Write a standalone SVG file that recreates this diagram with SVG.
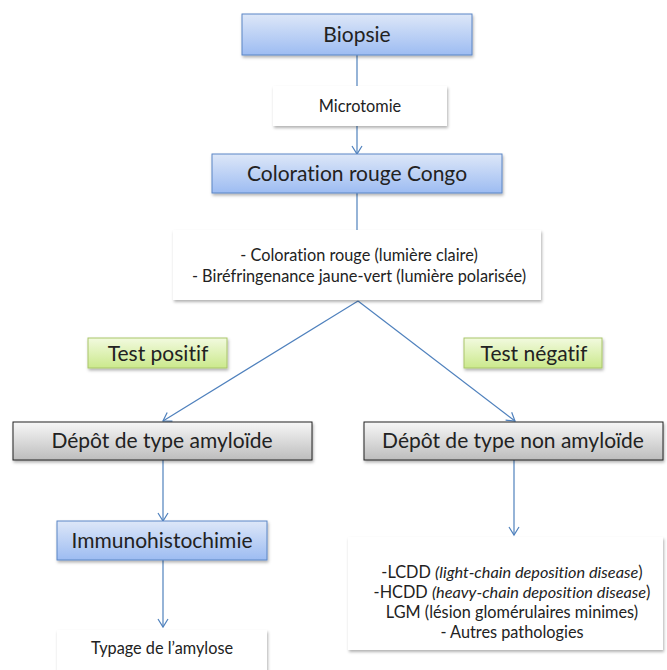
<svg xmlns="http://www.w3.org/2000/svg" width="667" height="670" viewBox="0 0 667 670">
<style>
text{font-family:Lato,"Open Sans","Liberation Sans",sans-serif;fill:#222;text-anchor:middle;font-variant-ligatures:none}
.big{font-size:21px}
.mid{font-size:21px}
.sm{font-size:16.3px}
.blue{fill:url(#gBlue);stroke:#5b86c5;stroke-width:1}
.gray{fill:url(#gGray);stroke:#222;stroke-width:1}
.green{fill:url(#gGreen);stroke:#a9c56a;stroke-width:1}
.white{fill:#fff}
.con{stroke:#4f81bd;stroke-width:1.2;fill:none}
</style>
<defs>
<linearGradient id="gBlue" x1="0" y1="0" x2="0" y2="1"><stop offset="0" stop-color="#dde7f8"/><stop offset="1" stop-color="#9dbcf2"/></linearGradient>
<linearGradient id="gGray" x1="0" y1="0" x2="0" y2="1"><stop offset="0" stop-color="#f7f7f7"/><stop offset="1" stop-color="#bdbdbd"/></linearGradient>
<linearGradient id="gGreen" x1="0" y1="0" x2="0" y2="1"><stop offset="0" stop-color="#f2fadf"/><stop offset="1" stop-color="#cbe98c"/></linearGradient>
<filter id="sh" x="-10%" y="-20%" width="120%" height="150%"><feDropShadow dx="1" dy="2" stdDeviation="1.5" flood-color="#000" flood-opacity="0.3"/></filter>
<marker id="arr" markerWidth="12" markerHeight="12" refX="10" refY="6" orient="auto" markerUnits="userSpaceOnUse"><path d="M2,1 L10,6 L2,11" fill="none" stroke="#4f81bd" stroke-width="1.2"/></marker>
</defs>
<g id="connectors">
<line class="con" x1="357" y1="55" x2="357" y2="86"/>
<line class="con" x1="357" y1="126" x2="357" y2="154" marker-end="url(#arr)"/>
<line class="con" x1="357" y1="193" x2="357" y2="230"/>
<line class="con" x1="358" y1="301" x2="163" y2="421" marker-end="url(#arr)"/>
<line class="con" x1="358" y1="301" x2="515" y2="421" marker-end="url(#arr)"/>
<line class="con" x1="163" y1="460" x2="163" y2="521" marker-end="url(#arr)"/>
<line class="con" x1="163" y1="560" x2="163" y2="627" marker-end="url(#arr)"/>
<line class="con" x1="514" y1="460" x2="514" y2="535" marker-end="url(#arr)"/>
</g>
<g id="biopsie"><rect class="blue" x="242" y="14" width="230" height="41" filter="url(#sh)"/><text class="big" x="357" y="42">Biopsie</text></g>
<g id="microtomie"><rect class="white" x="273" y="86" width="174" height="40" filter="url(#sh)"/><text class="sm" x="360" y="112">Microtomie</text></g>
<g id="coloration"><rect class="blue" x="212" y="154" width="290" height="39" filter="url(#sh)"/><text class="big" x="357" y="181">Coloration rouge Congo</text></g>
<g id="resultat"><rect class="white" x="173" y="230" width="368" height="70" filter="url(#sh)"/><text class="sm" x="359" y="261">- Coloration rouge (lumière claire)</text><text class="sm" x="359" y="282">- Biréfringenance jaune-vert (lumière polarisée)</text></g>
<g id="positif"><rect class="green" x="88" y="338" width="139" height="30" filter="url(#sh)"/><text class="mid" x="158" y="361">Test positif</text></g>
<g id="negatif"><rect class="green" x="464" y="338" width="138" height="30" filter="url(#sh)"/><text class="mid" x="534" y="361">Test négatif</text></g>
<g id="amyloide"><rect class="gray" x="13" y="422" width="299" height="38" filter="url(#sh)"/><text class="big" x="162" y="448">Dépôt de type amyloïde</text></g>
<g id="nonamyloide"><rect class="gray" x="364" y="422" width="299" height="38" filter="url(#sh)"/><text class="big" x="513" y="448">Dépôt de type non amyloïde</text></g>
<g id="immuno"><rect class="blue" x="57" y="521" width="210" height="39" filter="url(#sh)"/><text class="big" x="162" y="548">Immunohistochimie</text></g>
<g id="typage"><rect class="white" x="57" y="630" width="210" height="45" filter="url(#sh)"/><text class="sm" x="162" y="654">Typage de l’amylose</text></g>
<g id="autres"><rect class="white" x="348" y="537" width="315" height="113" filter="url(#sh)"/>
<text class="sm" x="512" y="578">-LCDD <tspan font-style="italic">(light-chain deposition disease</tspan>)</text>
<text class="sm" x="512" y="598">-HCDD <tspan font-style="italic">(heavy-chain deposition disease</tspan>)</text>
<text class="sm" x="512" y="618">LGM (lésion glomérulaires minimes)</text>
<text class="sm" x="512" y="638">- Autres pathologies</text></g>
</svg>
